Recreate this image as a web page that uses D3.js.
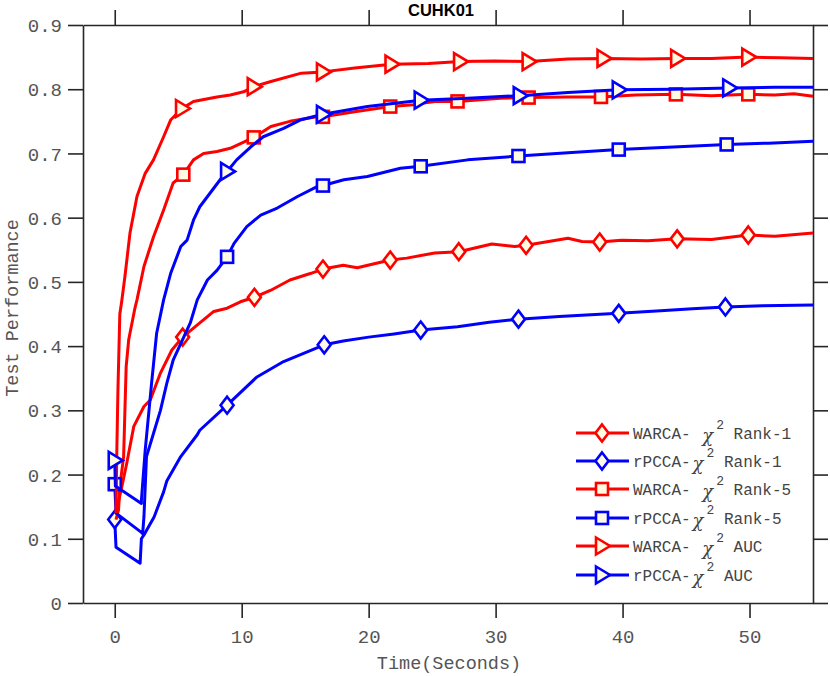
<!DOCTYPE html>
<html>
<head>
<meta charset="utf-8">
<script src="https://d3js.org/d3.v7.min.js"></script>
<style>
  body { margin: 0; background: #fff; }
  svg { display: block; }
  .tick text { font-family: "Liberation Mono", "Courier New", monospace; font-size: 19px; fill: #555; }
  .lbl { font-family: "Liberation Mono", "Courier New", monospace; font-size: 18.5px; fill: #555; }
  .leg { font-family: "Liberation Mono", "Courier New", monospace; font-size: 16px; fill: #444; }
</style>
</head>
<body>
<svg width="830" height="676"></svg>
<script>
// series: [time, performance]
const warcaRank1 = [[0.1,0.135],[0.15,0.145],[0.6,0.185],[0.95,0.218],[1.5,0.275],[2.3,0.306],[2.8,0.316],[3.6,0.358],[4.5,0.394],[5.35,0.414],[6.2,0.428],[7.8,0.454],[8.85,0.459],[9.9,0.469],[11,0.476],[12.3,0.487],[13.8,0.503],[15.4,0.513],[16.4,0.52],[18,0.526],[19.1,0.522],[21.7,0.534],[23,0.537],[25.2,0.545],[27.1,0.547],[29.7,0.559],[31.5,0.555],[32.4,0.557],[35.7,0.568],[36.8,0.563],[38.2,0.562],[39.9,0.565],[42,0.564],[44.3,0.567],[47,0.566],[49.9,0.573],[52,0.571],[55,0.576]];
const warcaRank1Marks = [[5.35,0.414],[11,0.476],[16.4,0.52],[21.7,0.534],[27.1,0.547],[32.4,0.557],[38.2,0.562],[44.3,0.567],[49.9,0.573]];

const rpccaRank1 = [[0,0.13],[0.1,0.087],[2.0,0.062],[2.1,0.1],[2.3,0.106],[3.1,0.134],[3.85,0.173],[4.1,0.19],[5.2,0.228],[6.5,0.262],[6.7,0.269],[8.85,0.308],[11.2,0.352],[13.3,0.376],[16.5,0.402],[18,0.408],[20,0.414],[22,0.419],[24.1,0.425],[27,0.43],[29.5,0.437],[31.8,0.442],[35,0.446],[37.5,0.449],[39.7,0.451],[43,0.455],[45.5,0.458],[48.1,0.461],[51,0.463],[55,0.464]];
const rpccaRank1Marks = [[0,0.13],[8.85,0.308],[16.5,0.402],[24.1,0.425],[31.8,0.442],[39.7,0.451],[48.1,0.461]];

const warcaRank5 = [[0.1,0.13],[0.3,0.145],[0.4,0.181],[0.7,0.228],[0.9,0.368],[1.1,0.41],[1.6,0.46],[1.75,0.472],[2.3,0.524],[3.05,0.57],[3.85,0.612],[4.6,0.654],[5.4,0.667],[6.2,0.69],[7,0.7],[8.05,0.703],[9.1,0.708],[10.2,0.718],[10.95,0.725],[12.3,0.742],[13.8,0.75],[15.9,0.757],[16.4,0.757],[18.9,0.765],[21.7,0.773],[23.5,0.776],[25.2,0.781],[27,0.781],[30.4,0.786],[32.6,0.787],[35.7,0.788],[38.3,0.788],[41,0.791],[44.2,0.792],[47,0.79],[49.9,0.792],[52,0.791],[53.5,0.793],[55,0.789]];
const warcaRank5Marks = [[5.4,0.667],[10.95,0.725],[16.4,0.757],[21.7,0.773],[27,0.781],[32.6,0.787],[38.3,0.788],[44.2,0.792],[49.9,0.792]];

const rpccaRank5 = [[0,0.185],[0.1,0.14],[2.1,0.11],[2.2,0.108],[2.3,0.134],[2.5,0.228],[3.05,0.264],[3.6,0.3],[4.1,0.342],[4.6,0.378],[5.2,0.404],[5.95,0.436],[6.5,0.472],[7.3,0.503],[8.05,0.518],[8.85,0.539],[9.4,0.56],[10.4,0.586],[11.5,0.604],[12.8,0.615],[14.4,0.633],[15.9,0.648],[16.4,0.65],[18.05,0.659],[19.9,0.664],[22.5,0.677],[24.1,0.68],[27.8,0.69],[31.8,0.696],[35.7,0.701],[39.7,0.706],[44,0.71],[48.2,0.714],[51.5,0.716],[55,0.719]];
const rpccaRank5Marks = [[0,0.185],[8.85,0.539],[16.4,0.65],[24.1,0.68],[31.8,0.696],[39.7,0.706],[48.2,0.714]];

const warcaAuc = [[0.1,0.14],[0.15,0.22],[0.25,0.33],[0.4,0.45],[0.55,0.47],[0.8,0.508],[1.2,0.576],[1.75,0.633],[2.4,0.669],[3.05,0.69],[3.85,0.726],[4.4,0.752],[5.3,0.77],[6.2,0.781],[8.05,0.788],[9.1,0.791],[10.15,0.796],[10.95,0.804],[12.3,0.812],[14.7,0.825],[16.4,0.827],[18.9,0.833],[21.8,0.839],[24.7,0.84],[27.2,0.843],[29.9,0.844],[32.6,0.843],[35.7,0.847],[38.5,0.848],[41.5,0.847],[44.3,0.848],[47,0.848],[49.9,0.85],[52.5,0.849],[55,0.848]];
const warcaAucMarks = [[5.3,0.77],[10.95,0.804],[16.4,0.827],[21.8,0.839],[27.2,0.843],[32.6,0.843],[38.5,0.848],[44.3,0.848],[49.9,0.85]];

const rpccaAuc = [[0,0.222],[0.05,0.182],[2.1,0.155],[2.1,0.16],[2.4,0.238],[2.9,0.342],[3.3,0.42],[3.85,0.472],[4.4,0.513],[5.2,0.555],[5.7,0.565],[6.2,0.596],[6.7,0.617],[7.5,0.638],[8.3,0.659],[8.85,0.672],[9.6,0.69],[10.7,0.71],[11.7,0.726],[13.3,0.739],[14.6,0.752],[16.4,0.761],[19.9,0.773],[24.1,0.783],[27.8,0.786],[31.9,0.79],[35.7,0.795],[39.7,0.799],[44,0.8],[48.4,0.802],[52,0.803],[55,0.803]];
const rpccaAucMarks = [[0,0.222],[8.85,0.672],[16.4,0.761],[24.1,0.783],[31.9,0.79],[39.7,0.799],[48.4,0.802]];

const names = ["WARCA- ", "rPCCA-", "WARCA- ", "rPCCA-", "WARCA- ", "rPCCA-"];
const suffixes = [" Rank-1", " Rank-1", " Rank-5", " Rank-5", " AUC", " AUC"];
const xTicks = [0, 10, 20, 30, 40, 50];
const yTicks = [0, 0.1, 0.2, 0.3, 0.4, 0.5, 0.6, 0.7, 0.8, 0.9];

const series = [
  {line: warcaRank1, marks: warcaRank1Marks, color: "#ff0000", shape: "diamond"},
  {line: rpccaRank1, marks: rpccaRank1Marks, color: "#0000ff", shape: "diamond"},
  {line: warcaRank5, marks: warcaRank5Marks, color: "#ff0000", shape: "square"},
  {line: rpccaRank5, marks: rpccaRank5Marks, color: "#0000ff", shape: "square"},
  {line: warcaAuc, marks: warcaAucMarks, color: "#ff0000", shape: "tri"},
  {line: rpccaAuc, marks: rpccaAucMarks, color: "#0000ff", shape: "tri"}
];

const svg = d3.select("svg");
const L = 83, R = 813, T = 25, B = 603;
const x = d3.scaleLinear().domain([-2.5, 55]).range([L, R]);
const y = d3.scaleLinear().domain([0, 0.9]).range([B, T]);
const axisColor = "#262626";

// axes, ticks outward on all four sides
const gx = svg.append("g").attr("transform", `translate(0,${B})`)
  .call(d3.axisBottom(x).tickValues(xTicks).tickSize(15).tickSizeOuter(0).tickPadding(12));
const gy = svg.append("g").attr("transform", `translate(${L},0)`)
  .call(d3.axisLeft(y).tickValues(yTicks).tickSize(15).tickSizeOuter(0).tickPadding(6)
    .tickFormat(d => d === 0 ? "0" : d3.format(".1f")(d)));
const gt = svg.append("g").attr("transform", `translate(0,${T})`)
  .call(d3.axisTop(x).tickValues(xTicks).tickSize(15).tickSizeOuter(0).tickFormat(""));
const gr = svg.append("g").attr("transform", `translate(${R},0)`)
  .call(d3.axisRight(y).tickValues(yTicks).tickSize(15).tickSizeOuter(0).tickFormat(""));
[gx, gy, gt, gr].forEach(g => {
  g.select(".domain").attr("stroke", axisColor).attr("stroke-width", 1.6);
  g.selectAll(".tick line").attr("stroke", axisColor).attr("stroke-width", 1.6);
});
gy.selectAll(".tick text").attr("dy", "0.35em");

const markFill = "#fffbe3";
function drawMark(g, shape, color) {
  if (shape === "diamond") {
    g.append("path").attr("d", "M0,-8.5L6.5,0L0,8.5L-6.5,0Z");
  } else if (shape === "square") {
    g.append("rect").attr("x", -6).attr("y", -6).attr("width", 12).attr("height", 12);
  } else {
    g.append("path").attr("d", "M-6,-8.5L8,0L-6,8.5Z");
  }
  g.selectAll("path,rect").attr("fill", markFill).attr("stroke", color).attr("stroke-width", 2.6);
}

const lineGen = d3.line().x(d => x(d[0])).y(d => y(d[1]));
const plot = svg.append("g");
series.forEach(s => {
  plot.append("path").attr("d", lineGen(s.line))
    .attr("fill", "none").attr("stroke", s.color).attr("stroke-width", 3)
    .attr("stroke-linejoin", "round");
  s.marks.forEach(m => {
    const g = plot.append("g").attr("transform", `translate(${x(m[0])},${y(m[1])})`);
    drawMark(g, s.shape, s.color);
  });
});

// title and axis labels
svg.append("text").attr("x", 441).attr("y", 16).attr("text-anchor", "middle")
  .style("font-family", "'Liberation Sans', Arial, sans-serif").style("font-weight", "bold")
  .style("font-size", "16.5px").text("CUHK01");
svg.append("text").attr("class", "lbl").attr("x", 449).attr("y", 669).attr("text-anchor", "middle")
  .text("Time(Seconds)");
svg.append("text").attr("class", "lbl").attr("transform", "translate(18,308) rotate(-90)")
  .attr("text-anchor", "middle").text("Test Performance");

// legend
const legY = [433, 461, 489, 518, 546, 575];
series.forEach((s, i) => {
  const g = svg.append("g").attr("transform", `translate(0,${legY[i]})`);
  g.append("line").attr("x1", 576).attr("x2", 629).attr("y1", 0).attr("y2", 0)
    .attr("stroke", s.color).attr("stroke-width", 3);
  const mg = g.append("g").attr("transform", "translate(602,0)");
  drawMark(mg, s.shape, s.color);
  const t = g.append("text").attr("class", "leg").attr("x", 633).attr("y", 6);
  t.append("tspan").text(names[i]);
  t.append("tspan").style("font-family", "'DejaVu Serif', 'Liberation Serif', serif")
    .style("font-style", "italic").style("font-size", "18px").attr("dx", 2).attr("dy", 3).text("χ");
  t.append("tspan").style("font-size", "13px").attr("dx", 3).attr("dy", -13).text("2");
  t.append("tspan").attr("dy", 10).text(suffixes[i]);
});
</script>
</body>
</html>
